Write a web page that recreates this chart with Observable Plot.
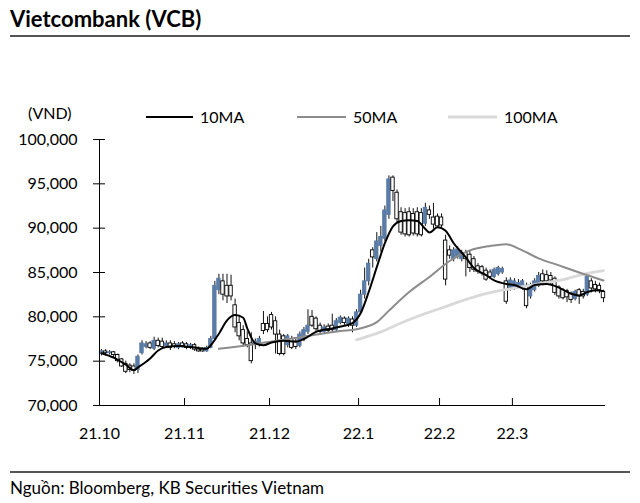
<!DOCTYPE html>
<html><head><meta charset="utf-8">
<script src="https://cdn.jsdelivr.net/npm/d3@7"></script>
<script src="https://cdn.jsdelivr.net/npm/@observablehq/plot@0.6"></script>
<style>
body{margin:0;background:#fff;font-family:Lato,"Noto Sans",sans-serif;color:#000;}
#wrap{position:relative;width:640px;height:503px;overflow:hidden;background:#fff;}
.abs{position:absolute;white-space:nowrap;z-index:2;}
#title{left:10px;top:8px;font-size:22px;line-height:22px;font-weight:700;}
.rule{position:absolute;left:10px;width:620px;height:2px;background:#555;z-index:2;}
#unit{left:28px;top:103px;font-size:16px;line-height:20px;}
.leg{position:absolute;top:107px;height:20px;display:flex;align-items:center;font-size:16px;line-height:20px;z-index:2;}
.leg svg{display:block;margin-right:7px;}
#chart{position:absolute;left:0;top:90px;z-index:1;}
#caption{left:10px;top:478px;font-size:17px;line-height:20px;}
</style></head>
<body><div id="wrap">
<div id="chart"></div>
<div id="title" class="abs">Vietcombank (VCB)</div>
<div class="rule" style="top:35px"></div>
<div id="unit" class="abs">(VND)</div>
<div id="legend"></div>
<div class="rule" style="top:471px"></div>
<div id="caption" class="abs">Nguồn: Bloomberg, KB Securities Vietnam</div>
</div>
<script>
// ---- data ----
const monthStarts = [0, 21, 42, 64, 84, 102];
const monthLabels = ["21.10", "21.11", "21.12", "22.1", "22.2", "22.3"];
const yTicks = [70000, 75000, 80000, 85000, 90000, 95000, 100000];

const open = [75800,76100,75900,76000,75700,75200,74700,74500,74400,74000,75900,76600,77000,76400,77300,77200,76700,77000,76900,76500,77000,
76900,76500,76800,76300,76300,76100,76500,77500,83000,84000,83500,83500,81300,79300,78500,77500,77000,76800,76900,79200,79200,
80200,79500,78000,77800,76800,77500,77200,76700,77500,78300,80000,79800,79000,78300,78900,79000,78500,79300,79800,79200,79700,79000,
80500,82500,84000,87500,86500,88000,88800,91500,95700,94000,91800,91700,91800,91600,91800,91700,90500,92000,91200,91300,
91200,88600,87500,86500,86800,86500,87200,87000,86500,85700,85600,85200,85000,84500,84800,85000,84000,83200,
83200,83500,83300,83500,82300,83000,83500,84800,84700,84600,84300,83300,83000,82900,82600,82000,83000,82800,82500,84000,83600,83500,82800];
const high = [76300,76300,76200,76100,75800,75300,75000,74700,74700,75700,77300,77200,77200,77700,77600,77600,77300,77300,77200,77100,77200,
77100,77000,77000,76600,76500,76700,77800,84000,84800,84800,84800,84700,82000,80000,79000,78300,78200,77500,77800,80600,80000,
80500,80000,78500,78000,78000,77800,77500,78300,78800,80800,80700,80000,79300,79100,79200,80300,79800,80100,80000,80000,80000,80800,
83000,85500,86500,87800,89500,90200,92500,95900,95900,94300,92300,92200,92300,92200,92300,92200,92800,92500,92800,91600,
91600,89200,88000,87800,87900,87500,87500,87500,86800,86000,85800,85500,85300,85500,85700,85600,84400,84400,
84300,84200,84200,83800,83800,84300,85000,85300,85200,85000,84500,83500,83200,83100,82800,83000,83200,83100,84900,84300,84000,83800,83000];
const low = [75600,75700,75700,75400,74800,74300,73600,73700,73500,73600,75700,76400,76300,76200,76500,76400,76500,76200,76400,76300,76500,
76300,76300,76100,76000,76000,76000,76400,77300,82500,81800,81500,81800,78200,77300,76600,76500,74700,76300,76600,78000,78200,
78500,75800,75600,75600,76500,76300,76300,76500,77200,78000,78800,78300,78000,78000,78100,78200,78300,79100,79000,78800,78200,78800,
80200,82000,83500,85500,86200,87300,88500,91000,93000,90500,89200,89000,89000,89100,89000,89000,90200,91000,89900,90000,
90000,83500,86500,86200,86500,86200,84500,85000,85000,84800,84600,84000,84200,84300,84600,84800,81400,82900,
83000,83200,83000,80900,82000,82800,83300,83500,83700,83600,82400,82000,81900,81600,81500,81800,81400,82000,82300,82700,82700,82600,81600];
const close = [76100,75900,76000,75700,75000,74400,73800,74000,73900,75500,77000,76900,76500,77300,76700,76600,77000,76500,76600,76900,76700,
76500,76800,76300,76100,76100,76500,77500,83500,84300,82500,82300,82300,78800,77800,77000,76800,75000,77200,77500,78400,78500,
78800,78000,75800,75800,77800,76500,76600,78000,78500,79000,79000,78600,78300,78800,78400,78500,79500,79900,79300,79800,79000,80500,
82500,84000,86000,86700,88500,89000,92000,95500,94200,91000,89500,89300,89200,89400,89300,89200,92300,91500,90400,90200,
90300,84200,86900,87500,87600,87200,86500,85500,85300,85100,84900,84200,84500,85300,85500,85400,81700,84100,
84000,83800,84000,81200,83600,84000,84600,84000,84000,84100,82700,82300,82100,82200,81900,82800,82300,82300,84500,83200,83100,83000,82100];

const ma10Idx = [0,3,6,8,9,12,14,16,19,22,26,27,29,31,33,35,36,38,40,42,45,48,50,53,57,60,62,64,66,68,70,72,74,76,78,80,81,83,85,87,90,92,95,97,100,102,105,107,110,113,116,118,120,122,124];
const ma10 = [75900,75400,74600,74000,74300,75300,76200,76600,76700,76600,76400,76800,78100,79600,80200,79900,78700,77000,76800,77100,77300,77200,77500,78300,78700,79000,79300,80400,82800,85600,88300,90200,90800,90900,90800,89900,89500,90100,89700,88300,86700,85500,84700,84100,83700,83600,83100,83600,83700,83300,82600,82400,82800,83000,82900];
const ma50Idx = [29,39,49,59,63,68,71,76,81,86,91,96,100,103,108,113,118,124];
const ma50 = [76400,77000,77700,78400,78600,79400,80700,82800,84500,86300,87500,88000,88200,87700,86600,85800,85000,84100];
const ma100Idx = [63,69,74,79,84,89,94,99,104,109,114,119,124];
const ma100 = [77400,78300,79300,80200,81000,81800,82500,83000,83400,83800,84200,84800,85200];

const seriesNames = ["10MA", "50MA", "100MA"];
const seriesColors = ["#000000", "#8c8c8c", "#d9d9d9"];
const seriesWidths = [2, 2, 2.8];
const legendLeft = [146, 297, 448];
const blue = "#5a7ca6";

// ---- build ----
const candles = open.map((o, i) => ({i, open: o, high: high[i], low: low[i], close: close[i], up: close[i] >= o}));
const mk = (idx, vals, name) => idx.map((d, k) => ({i: d, v: vals[k], s: name}));
const s10 = mk(ma10Idx, ma10, "10MA"), s50 = mk(ma50Idx, ma50, "50MA"), s100 = mk(ma100Idx, ma100, "100MA");
const labelOf = new Map(monthStarts.map((d, k) => [d, monthLabels[k]]));

const chart = Plot.plot({
  width: 640, height: 360,
  marginLeft: 99, marginRight: 35, marginTop: 49, marginBottom: 45,
  x: {domain: [0, 125]},
  y: {domain: [70000, 100000]},
  style: {fontFamily: "Lato, 'Noto Sans', sans-serif", fontSize: "16px", color: "#000", background: "transparent"},
  marks: [
    Plot.ruleX(candles, {x: d => d.i + 0.5, y1: "low", y2: "high", stroke: "#111", strokeWidth: 1}),
    Plot.rect(candles, {x1: d => d.i + 0.08, x2: d => d.i + 0.92, y1: "open", y2: "close",
      fill: d => d.up ? blue : "#ffffff", stroke: d => d.up ? blue : "#000000", strokeWidth: 0.9}),
    Plot.line(s100, {x: d => d.i + 0.5, y: "v", stroke: seriesColors[2], strokeWidth: seriesWidths[2], curve: "monotone-x"}),
    Plot.line(s50, {x: d => d.i + 0.5, y: "v", stroke: seriesColors[1], strokeWidth: seriesWidths[1], curve: "monotone-x"}),
    Plot.line(s10, {x: d => d.i + 0.5, y: "v", stroke: seriesColors[0], strokeWidth: seriesWidths[0], curve: "monotone-x"}),
    Plot.ruleX([0], {y1: 70000, y2: 100000, stroke: "#000"}),
    Plot.ruleY([70000], {stroke: "#000"}),
    Plot.axisY({ticks: yTicks, tickSize: 6, tickPadding: 16, tickFormat: d3.format(","), label: null}),
    Plot.axisY({ticks: yTicks, tickSize: 6, dx: 6, fill: "none", tickFormat: () => "", label: null}),
    Plot.axisX({ticks: monthStarts, tickSize: 7, dy: -7, fill: "none", tickFormat: () => "", label: null}),
    Plot.axisX({ticks: monthStarts, tickSize: 0, tickPadding: 22, tickFormat: d => labelOf.get(d), label: null})
  ]
});
document.getElementById("chart").appendChild(chart);

// legend
const leg = document.getElementById("legend");
seriesNames.forEach((name, k) => {
  const item = document.createElement("div");
  item.className = "leg";
  item.style.left = legendLeft[k] + "px";
  const w = k === 0 ? 47 : 49;
  item.innerHTML = `<svg width="${w}" height="6"><line x1="0" x2="${w}" y1="3" y2="3" stroke="${seriesColors[k]}" stroke-width="${seriesWidths[k]}"/></svg><span>${name}</span>`;
  leg.appendChild(item);
});
</script>
</body></html>
